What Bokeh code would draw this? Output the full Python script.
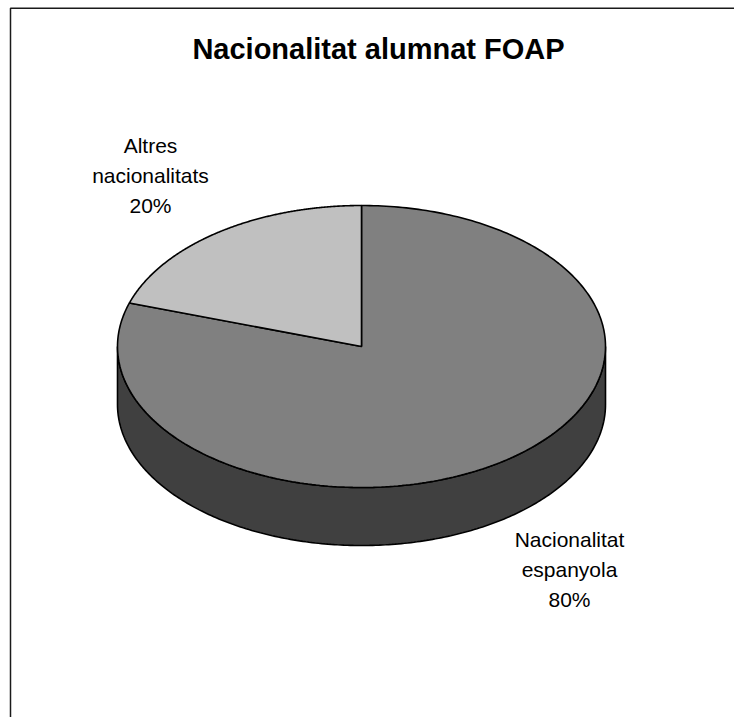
import numpy as np
from bokeh.plotting import figure
from bokeh.embed import file_html
from bokeh.resources import INLINE
from bokeh.core.properties import value

title = "Nacionalitat alumnat FOAP"
categories = ["Nacionalitat espanyola", "Altres nacionalitats"]
shares = [80, 20]
label_lines = [["Nacionalitat", "espanyola", "80%"], ["Altres", "nacionalitats", "20%"]]
top_colors = ["#808080", "#C0C0C0"]
side_color = "#404040"

W, H = 734, 717
CX, CY, RX, RY, DEPTH = 361, 346, 244, 141, 58  # pixel layout inside the figure

p = figure(width=W, height=H, x_range=(0, W), y_range=(H, 0), output_backend="svg",
           toolbar_location=None, min_border=0, outline_line_color=None,
           background_fill_color="white", border_fill_color="white")
p.axis.visible = False
p.grid.visible = False

# frame runs off the right and bottom of the picture
p.line([10, 10, W], [H, 7.7, 7.7], line_color="#1a1a1a", line_width=1.5)

def pt(t, dy=0):
    return CX + RX * np.sin(t), CY - RY * np.cos(t) + dy

# side wall: lower half of the ellipse, extruded
t = np.linspace(np.pi / 2, 3 * np.pi / 2, 240)
x0, y0 = pt(t)
x1, y1 = pt(t, DEPTH)
p.patch(np.r_[x0, x1[::-1]], np.r_[y0, y1[::-1]], fill_color=side_color,
        line_color="black", line_width=1.6)

# top slices, clockwise from 12 o'clock
fr = np.cumsum([0] + shares) / sum(shares) * 2 * np.pi
for i, c in enumerate(top_colors):
    t = np.linspace(fr[i], fr[i + 1], 300)
    x, y = pt(t)
    p.patch(np.r_[CX, x], np.r_[CY, y], fill_color=c, line_color="black", line_width=1.6)

font = value("Liberation Sans")
p.text([378], [48], text=[title], text_font=font, text_font_size="29px", text_font_style="bold",
       text_align="center", text_baseline="middle", text_color="black")

anchors_x = [569, 150]
anchors_y = [[539, 569, 599], [145, 175, 205]]
for lines, ax, ays in zip(label_lines, anchors_x, anchors_y):
    p.text([ax] * 3, ays, text=lines, text_font=font, text_font_size="21px",
           text_align="center", text_baseline="middle", text_color="black")

open("out.html", "w").write(file_html(p, INLINE))
